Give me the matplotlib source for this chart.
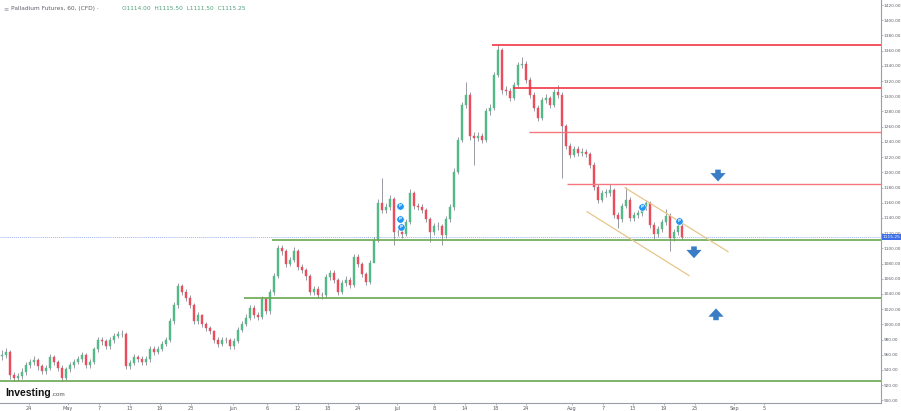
import matplotlib.pyplot as plt
import numpy as np

# Palladium Futures 60 candles (one candle per ~4 px)
closes = [960, 964, 933, 930, 932, 938, 946, 951, 953, 945,
          939, 943, 957, 950, 943, 930, 941, 946, 951, 955,
          960, 946, 951, 967, 980, 978, 971, 980, 985, 987,
          988, 945, 949, 957, 955, 950, 954, 968, 964, 968,
          974, 980, 1004, 1025, 1050, 1043, 1035, 1026, 1004, 1012,
          1000, 995, 991, 980, 974, 980, 979, 971, 978, 993,
          1001, 1009, 1022, 1012, 1010, 1033, 1017, 1042, 1064, 1100,
          1096, 1080, 1085, 1096, 1075, 1071, 1063, 1043, 1047, 1039,
          1038, 1062, 1068, 1058, 1043, 1055, 1059, 1052, 1089, 1079,
          1066, 1056, 1081, 1111, 1160, 1151, 1155, 1165, 1121, 1122,
          1119, 1135, 1173, 1156, 1154, 1150, 1138, 1122, 1129, 1129,
          1117, 1138, 1154, 1201, 1243, 1289, 1302, 1248, 1245, 1248,
          1243, 1280, 1285, 1328, 1361, 1308, 1307, 1298, 1315, 1341,
          1343, 1322, 1302, 1285, 1272, 1295, 1298, 1289, 1306, 1302,
          1261, 1235, 1223, 1231, 1226, 1227, 1224, 1210, 1181, 1164,
          1173, 1173, 1177, 1144, 1138, 1156, 1164, 1140, 1144, 1147,
          1154, 1159, 1131, 1119, 1125, 1135, 1143, 1114, 1121, 1130,
          1115.25]
highs = [966, 969, 966, 937, 936, 942, 950, 955, 958, 956,
         948, 947, 961, 960, 953, 946, 944, 950, 955, 959,
         964, 962, 955, 970, 984, 984, 981, 983, 989, 991,
         992, 990, 953, 961, 960, 958, 958, 972, 971, 972,
         978, 984, 1008, 1029, 1055, 1053, 1046, 1038, 1028, 1016,
         1014, 1003, 998, 993, 983, 984, 984, 982, 982, 997,
         1005, 1013, 1026, 1025, 1016, 1037, 1036, 1046, 1068, 1105,
         1104, 1099, 1089, 1102, 1099, 1079, 1074, 1066, 1051, 1050,
         1043, 1066, 1072, 1071, 1061, 1059, 1063, 1062, 1093, 1092,
         1082, 1069, 1085, 1115, 1165, 1193, 1160, 1170, 1168, 1127,
         1126, 1139, 1178, 1176, 1160, 1158, 1153, 1141, 1133, 1134,
         1132, 1142, 1158, 1205, 1247, 1293, 1319, 1305, 1253, 1253,
         1252, 1284, 1290, 1332, 1368, 1364, 1313, 1311, 1319, 1345,
         1352, 1346, 1325, 1305, 1288, 1299, 1303, 1301, 1310, 1315,
         1305, 1264, 1238, 1235, 1235, 1232, 1231, 1227, 1213, 1184,
         1177, 1178, 1184, 1180, 1148, 1160, 1181, 1167, 1148, 1151,
         1158, 1163, 1162, 1134, 1129, 1139, 1152, 1146, 1125, 1134,
         1133]
lows = [953, 956, 928, 926, 926, 928, 934, 942, 947, 940,
        935, 935, 940, 946, 939, 925, 927, 938, 943, 948,
        951, 942, 943, 948, 964, 973, 967, 968, 976, 982,
        983, 941, 941, 946, 951, 946, 946, 951, 960, 961,
        965, 971, 977, 1001, 1022, 1039, 1031, 1022, 1000, 1001,
        996, 991, 987, 976, 970, 971, 975, 967, 968, 975,
        990, 998, 1006, 1008, 1006, 1007, 1013, 1014, 1039, 1061,
        1091, 1076, 1077, 1082, 1071, 1067, 1059, 1039, 1039, 1035,
        1033, 1035, 1058, 1054, 1039, 1040, 1051, 1048, 1049, 1075,
        1062, 1052, 1053, 1101, 1108, 1147, 1147, 1151, 1104, 1116,
        1114, 1116, 1132, 1152, 1150, 1146, 1134, 1108, 1118, 1124,
        1105, 1114, 1135, 1151, 1198, 1240, 1285, 1243, 1210, 1241,
        1238, 1240, 1276, 1282, 1325, 1303, 1302, 1294, 1295, 1312,
        1337, 1318, 1298, 1280, 1267, 1269, 1291, 1285, 1286, 1298,
        1193, 1231, 1219, 1220, 1222, 1222, 1220, 1206, 1177, 1160,
        1161, 1168, 1169, 1140, 1127, 1135, 1153, 1136, 1136, 1140,
        1143, 1150, 1127, 1112, 1115, 1121, 1131, 1096, 1110, 1117,
        1111.5]
first_open = 958
opens = [first_open] + closes[:-1]

# support / resistance lines: (price, start candle)
red_levels = [1367.5, 1311, 1253, 1184]
red_starts = [122.5, 127.75, 131.75, 141.25]
green_levels = [1111, 1035, 925]
green_starts = [67.5, 60.5, -0.5]
last_price = 1115.25

# falling channel: (x0, y0, x1, y1)
channel_upper = [155.75, 1179.7, 181.5, 1095.7]
channel_lower = [146.25, 1148.2, 171.75, 1064.2]

# blue "P" markers and arrows (arrow tip positions)
marker_x = [99.5, 99.5, 99.75, 160, 169.25]
marker_y = [1156, 1138, 1128.5, 1155, 1136.5]
arrow_x = [179, 173, 178.5]
arrow_y = [1188, 1087, 1021]
arrow_dir = ['down', 'down', 'up']

# x axis labels at candle positions
xtick_pos = [6.75, 16.5, 24.25, 32, 39.5, 47.25, 57.75, 66.25, 74, 81.5, 89,
             98.75, 108, 115.75, 123.5, 131, 142.5, 150.25, 157.75, 165.5, 173.25, 183, 190.5]
xtick_labels = ['24', 'May', '7', '13', '19', '23', 'Jun', '6', '12', '18', '24',
                'Jul', '8', '14', '18', '24', 'Aug', '7', '13', '19', '25', 'Sep', '5']
yticks = list(range(900, 1421, 20))

up_col = '#53b987'
down_col = '#eb4d5c'

fig = plt.figure(figsize=(9.01, 4.11), dpi=100)
ax = fig.add_axes([0, 8 / 411, 881 / 901, 403 / 411])
ylo, yhi = 896.6, 1426.6

x = np.arange(len(closes))
o = np.array(opens, dtype=float)
c = np.array(closes, dtype=float)
h = np.array(highs, dtype=float)
l = np.array(lows, dtype=float)
up = c >= o
cols = np.where(up, up_col, down_col)

ax.vlines(x, l, h, color='#6f7380', lw=0.5, zorder=2)
body_lo = np.minimum(o, c)
body_h = np.maximum(np.abs(c - o), 0.8)
ax.bar(x, body_h, bottom=body_lo, width=0.7, color=cols, edgecolor=cols, lw=0.3, zorder=3)

# horizontal levels
for lev, st in zip(red_levels[:2], red_starts[:2]):
    ax.hlines(lev, st, 219.75, color='#f23645', lw=1.2, zorder=4)
for lev, st in zip(red_levels[2:], red_starts[2:]):
    ax.hlines(lev, st, 219.75, color='#f6767f', lw=1.0, zorder=4)
for lev, st in zip(green_levels, green_starts):
    ax.hlines(lev, st, 219.75, color='#6aa84f', lw=1.2, zorder=4)
ax.axhline(last_price, color='#9fb2f2', lw=0.7, ls=(0, (1, 1)), zorder=1)

# channel
ax.plot(channel_upper[0::2], channel_upper[1::2], color='#e6c68c', lw=0.9, zorder=4)
ax.plot(channel_lower[0::2], channel_lower[1::2], color='#e6c68c', lw=0.9, zorder=4)

# P markers
ax.scatter(marker_x, marker_y, s=28, color='#2196f3', zorder=6, edgecolors='white', linewidths=0.4)
for mx, my in zip(marker_x, marker_y):
    ax.text(mx, my, 'P', color='white', fontsize=3, ha='center', va='center', zorder=7, fontweight='bold')

# arrows
for px, py, d in zip(arrow_x, arrow_y, arrow_dir):
    off = 8.5 if d == 'down' else -8.5
    ax.annotate('', xy=(px, py), xycoords='data',
                xytext=(0, off), textcoords='offset points',
                arrowprops=dict(arrowstyle='simple,head_width=2.2,head_length=1.2,tail_width=0.8',
                                mutation_scale=5, color='#3a7dc6', lw=0,
                                shrinkA=0, shrinkB=0), zorder=6)

ax.set_xlim(-0.5, 219.75)
ax.set_ylim(ylo, yhi)

for s in ['top', 'left']:
    ax.spines[s].set_visible(False)
ax.spines['right'].set_color('#9a9ea8')
ax.spines['bottom'].set_color('#9a9ea8')
ax.spines['right'].set_linewidth(0.8)
ax.spines['bottom'].set_linewidth(0.8)

ax.yaxis.tick_right()
ax.set_yticks(yticks)
ax.set_yticklabels([f'{v}.00' for v in yticks])
ax.tick_params(axis='y', labelsize=3.1, colors='#9a9ea8', labelcolor='#5d606b', length=1.2, width=0.5, pad=0.8)
ax.set_xticks(xtick_pos)
ax.set_xticklabels(xtick_labels)
ax.tick_params(axis='x', labelsize=3.6, colors='#9a9ea8', labelcolor='#5d606b', length=1.5, width=0.5, pad=0.6)

# last price tag
ax.text(1.002, (last_price - ylo) / (yhi - ylo), '1115.25', transform=ax.transAxes,
        fontsize=3.1, color='white', ha='left', va='center', zorder=8, clip_on=False,
        bbox=dict(boxstyle='square,pad=0.25', fc='#3d6ee8', ec='none'))

# header
fig.text(0.004, 0.985, '\u2261', fontsize=4.5, color='#9a9ea8', va='top')
fig.text(0.012, 0.985, 'Palladium Futures, 60, (CFD) \u00b7', fontsize=4.2, color='#5d606b', va='top')
fig.text(0.135, 0.985, 'O1114.00  H1115.50  L1111.50  C1115.25', fontsize=4.2, color='#53a07a', va='top')

# logo
logo = fig.text(0.006, 0.031, 'Investing', fontsize=7.5, fontweight='bold', color='#111111',
                va='bottom', family='Liberation Sans')
fig.canvas.draw()
bb = logo.get_window_extent().transformed(fig.transFigure.inverted())
fig.text(bb.x1, 0.033, '.com', fontsize=4.6, color='#555555', va='bottom', family='Liberation Sans')

fig.savefig('out.png', dpi=100)
